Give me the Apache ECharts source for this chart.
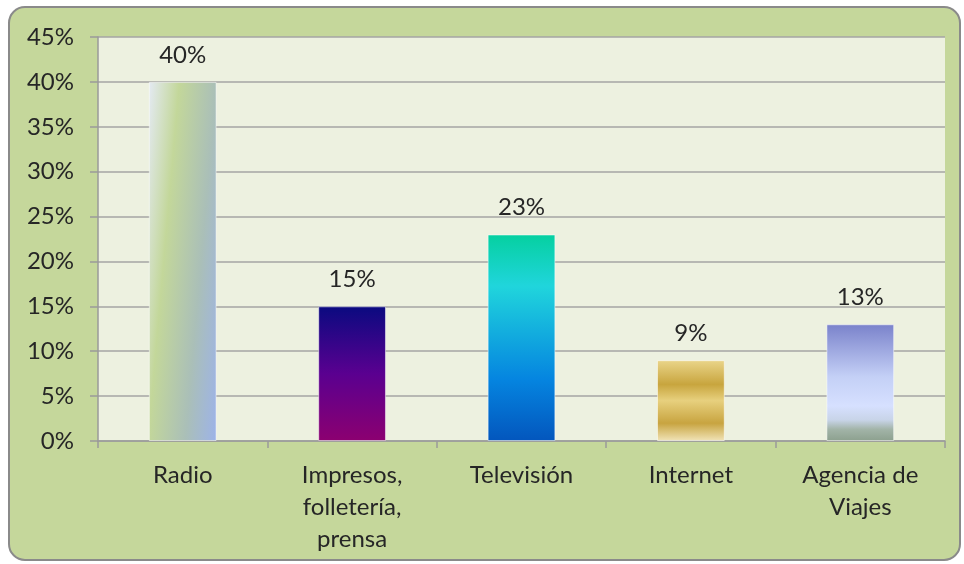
<!DOCTYPE html>
<html><head><meta charset="utf-8">
<script src="https://cdn.jsdelivr.net/npm/echarts@6/dist/echarts.min.js"></script>
<style>html,body{margin:0;padding:0;background:#fff}#c{width:964px;height:564px}</style>
</head><body><div id="c"></div>
<script>
var categories = ['Radio', 'Impresos,\nfolletería,\nprensa', 'Televisión', 'Internet', 'Agencia de\nViajes'];
var values = [40, 15, 23, 9, 13];
var yTicks = {min: 0, max: 45, interval: 5};

function lg(x, y, x2, y2, stops) {
  return new echarts.graphic.LinearGradient(x, y, x2, y2, stops.map(function (s) { return {offset: s[0], color: s[1]}; }));
}
var fills = [
  lg(0, 0, 1.445, 0.024, [[0, '#e4eaf3'], [0.31, '#c3d79a'], [0.69, '#aabfb8'], [1, '#9db3e8']]),
  lg(0, 0, 0, 1, [[0, '#0a0a80'], [0.5, '#5a0090'], [1, '#8c0070']]),
  lg(0, 0, 0, 1, [[0, '#05d0a0'], [0.25, '#20d5dc'], [0.7, '#0585e0'], [1, '#0356bd']]),
  lg(0, 0, 0, 1, [[0, '#ead58a'], [0.3, '#c8a53e'], [0.5, '#e7d07e'], [0.78, '#c8a440'], [1, '#f1e4b8']]),
  lg(0, 0, 0, 1, [[0, '#7a82cb'], [0.45, '#c4d0f6'], [0.7, '#d6e0ff'], [0.82, '#c8d4e8'], [0.9, '#a2b4a8'], [1, '#8ca08e']])
];

var font = 'Lato';
var chart = echarts.init(document.getElementById('c'));
chart.setOption({
  animation: false,
  backgroundColor: '#ffffff',
  graphic: [{
    type: 'rect', z: -10, silent: true,
    shape: {x: 9, y: 7, width: 951, height: 553, r: 16},
    style: {fill: '#c5d79b', stroke: '#8a8a8a', lineWidth: 2}
  }],
  grid: {left: 98, right: 19, top: 37, bottom: 123, show: true, backgroundColor: '#edf1e0', borderWidth: 0},
  xAxis: {
    type: 'category', data: categories,
    axisLine: {lineStyle: {color: '#9a9a9a', width: 1.5}},
    axisTick: {show: true, length: 7, lineStyle: {color: '#9a9a9a', width: 1.5}},
    axisLabel: {color: '#262626', fontFamily: font, fontSize: 24, lineHeight: 32, margin: 18, interval: 0}
  },
  yAxis: {
    type: 'value', min: yTicks.min, max: yTicks.max, interval: yTicks.interval,
    axisLine: {show: true, lineStyle: {color: '#9a9a9a', width: 1.5}},
    axisTick: {show: true, length: 8, lineStyle: {color: '#9a9a9a', width: 1.5}},
    axisLabel: {formatter: '{value}%', color: '#262626', fontFamily: font, fontSize: 24, margin: 24},
    splitLine: {lineStyle: {color: '#a5a5a5', width: 1.5}}
  },
  series: [{
    type: 'bar', barWidth: '40%',
    data: values.map(function (v, i) {
      return {value: v, itemStyle: {color: fills[i], borderColor: 'rgba(255,255,255,0.5)', borderWidth: 1}};
    }),
    label: {show: true, position: 'top', distance: 15, formatter: '{c}%', color: '#262626', fontFamily: font, fontSize: 24}
  }]
});
</script></body></html>
